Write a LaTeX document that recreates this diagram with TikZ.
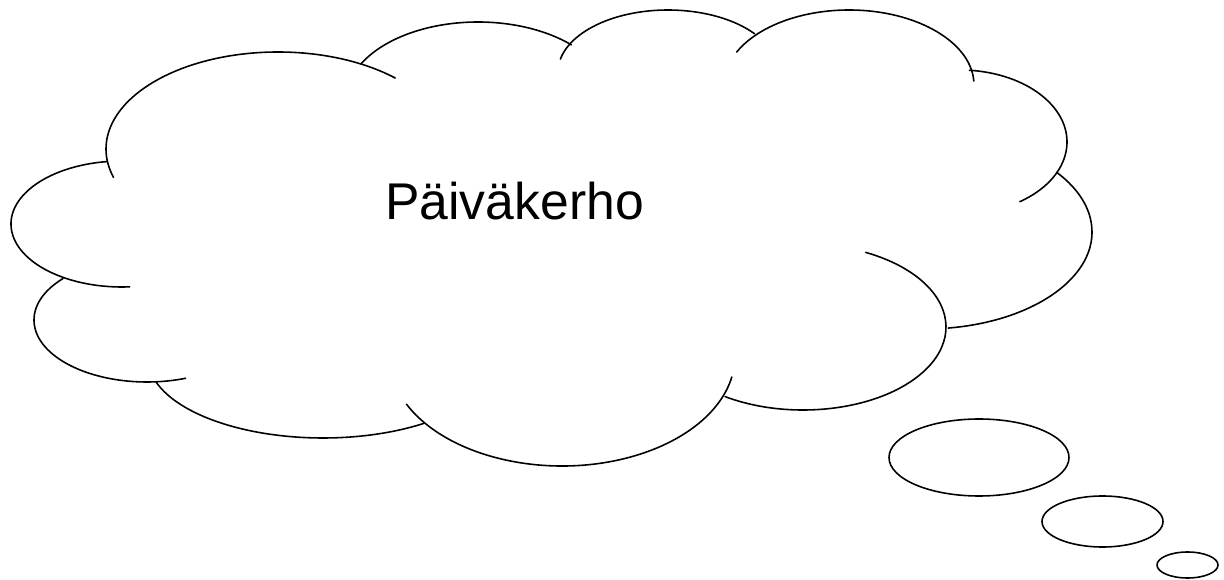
\documentclass[tikz,border=0pt]{standalone}
\usepackage{fontspec}
\setmainfont{Liberation Sans}

\begin{document}
\begin{tikzpicture}[x=0.02cm,y=0.02cm,
    lobe/.style={line width=0.9pt, line cap=round},
    bubble/.style={line width=0.9pt}]
        \useasboundingbox (0,0) rectangle (1224,-580);
        % Cloud lobes, left side going round
        \draw[lobe] ([shift={(122,-224)}]98:111 and 63) arc[start angle=98, end angle=274, x radius=111, y radius=63];
        \draw[lobe] ([shift={(147,-320)}]138:113 and 62) arc[start angle=138, end angle=290, x radius=113, y radius=62];
        \draw[lobe] ([shift={(323,-358)}]197.5:175 and 80) arc[start angle=197.5, end angle=305, x radius=175, y radius=80];
        \draw[lobe] ([shift={(562,-356)}]206:173 and 110) arc[start angle=206, end angle=349, x radius=173, y radius=110];
        \draw[lobe] ([shift={(803,-327)}]237:143 and 83) arc[start angle=237, end angle=424, x radius=143, y radius=83];
        \draw[lobe] ([shift={(925,-232)}]-82:167 and 97) arc[start angle=-82, end angle=38, x radius=167, y radius=97];
        \draw[lobe] ([shift={(960,-142)}]-56:107 and 72) arc[start angle=-56, end angle=85, x radius=107, y radius=72];
        \draw[lobe] ([shift={(849,-85)}]3:125 and 75) arc[start angle=3, end angle=154, x radius=125, y radius=75];
        \draw[lobe] ([shift={(668,-72)}]38:110 and 62) arc[start angle=38, end angle=168, x radius=110, y radius=62];
        \draw[lobe] ([shift={(478,-100)}]45:132 and 78) arc[start angle=45, end angle=152, x radius=132, y radius=78];
        \draw[lobe] ([shift={(278,-149)}]47:172 and 97) arc[start angle=47, end angle=197, x radius=172, y radius=97];
        % Thought bubbles
        \draw[bubble] (979,-457.5) ellipse[x radius=90, y radius=38.5];
        \draw[bubble] (1102.5,-521.5) ellipse[x radius=60.5, y radius=25.5];
        \draw[bubble] (1187.5,-565) ellipse[x radius=30.5, y radius=13];
        % Text
        \node[anchor=base west, inner sep=0pt, font=\fontsize{29.4}{35}\selectfont] (caption) at (385,-220) {Päiväkerho};
    \end{tikzpicture}
\end{document}
